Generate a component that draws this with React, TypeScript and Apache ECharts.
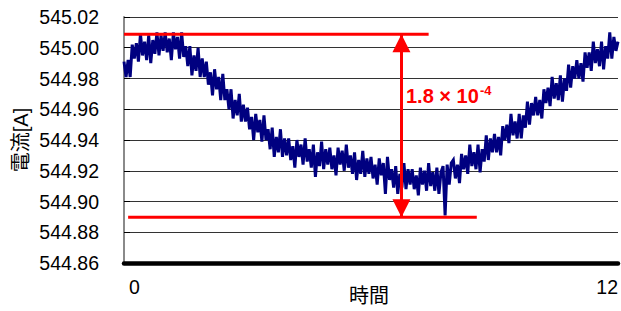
import React, { useEffect, useRef } from "react";
import * as echarts from "echarts";

// Measured current (A), sampled every 0.05 time units from 0 to 12
const currentValues: number[] = [
  544.991, 544.981, 544.992, 544.981, 545.002,
  544.993, 545.003, 544.991, 545.009, 544.995,
  545.004, 544.992, 545.008, 544.990, 545.005,
  544.996, 545.010, 544.995, 545.008, 544.998,
  545.010, 544.997, 545.006, 544.992, 545.010,
  544.999, 545.007, 544.993, 545.010, 544.994,
  545.001, 544.988, 545.001, 544.982, 544.995,
  544.985, 545.000, 544.981, 544.993, 544.981,
  544.991, 544.976, 544.984, 544.969, 544.986,
  544.973, 544.981, 544.966, 544.983, 544.966,
  544.973, 544.960, 544.973, 544.954, 544.966,
  544.956, 544.970, 544.952, 544.963, 544.952,
  544.961, 544.947, 544.955, 544.940, 544.957,
  544.945, 544.953, 544.939, 544.956, 544.940,
  544.947, 544.934, 544.948, 544.929, 544.942,
  544.932, 544.947, 544.929, 544.941, 544.930,
  544.941, 544.927, 544.936, 544.922, 544.940,
  544.929, 544.937, 544.924, 544.941, 544.926,
  544.934, 544.922, 544.937, 544.916, 544.932,
  544.923, 544.939, 544.921, 544.934, 544.924,
  544.935, 544.921, 544.930, 544.917, 544.935,
  544.924, 544.933, 544.920, 544.937, 544.922,
  544.930, 544.918, 544.932, 544.914, 544.927,
  544.918, 544.933, 544.916, 544.928, 544.918,
  544.929, 544.915, 544.924, 544.911, 544.928,
  544.917, 544.925, 544.905, 544.929, 544.914,
  544.921, 544.909, 544.923, 544.905, 544.918,
  544.909, 544.925, 544.908, 544.921, 544.911,
  544.921, 544.908, 544.917, 544.904, 544.922,
  544.911, 544.920, 544.907, 544.925, 544.910,
  544.919, 544.907, 544.922, 544.905, 544.919,
  544.923, 544.891, 544.924, 544.911, 544.925,
  544.927, 544.915, 544.924, 544.912, 544.931,
  544.921, 544.930, 544.918, 544.937, 544.923,
  544.932, 544.921, 544.937, 544.919, 544.934,
  544.926, 544.943, 544.927, 544.941, 544.932,
  544.944, 544.932, 544.942, 544.930, 544.949,
  544.940, 544.950, 544.938, 544.957, 544.943,
  544.952, 544.941, 544.957, 544.941, 544.956,
  544.948, 544.965, 544.950, 544.964, 544.956,
  544.968, 544.956, 544.966, 544.954, 544.973,
  544.964, 544.974, 544.962, 544.981, 544.967,
  544.977, 544.966, 544.982, 544.965, 544.980,
  544.972, 544.989, 544.974, 544.988, 544.980,
  544.992, 544.980, 544.990, 544.978, 544.997,
  544.987, 544.997, 544.985, 545.004, 544.990,
  544.999, 544.988, 545.004, 544.986, 545.001,
  544.993, 545.010, 544.993, 545.007, 544.998,
  545.004,
];
const timeStep = 0.05;

// Axis
const xMin = 0;
const xMax = 12;
const yMin = 544.86;
const yMax = 545.02;
const yInterval = 0.02;

// Annotation (peak-to-peak range)
const upperLevel = 545.0088;
const lowerLevel = 544.8898;
const upperLineX: [number, number] = [0, 7.4];
const lowerLineX: [number, number] = [0.1, 8.57];
const arrowX = 6.74;
const rangeText = "1.8 × 10";
const rangeExp = "-4";

const xAxisName = "時間";
const yAxisName = "電流[A]";

const FONT = "'Liberation Sans', Arial, 'Noto Sans CJK JP', sans-serif";

export default function App() {
  const ref = useRef<HTMLDivElement>(null);

  useEffect(() => {
    if (!ref.current) return;
    const chart = echarts.init(ref.current, null, { renderer: "svg" });
    const seriesData = currentValues.map((v, i) => [+(i * timeStep).toFixed(2), v]);

    chart.setOption({
      animation: false,
      textStyle: { fontFamily: FONT },
      grid: {
        left: 124,
        right: 3,
        top: 17,
        bottom: 48,
        containLabel: false,
        outerBoundsMode: "none",
      },
      xAxis: {
        type: "value",
        min: xMin,
        max: xMax,
        interval: 12,
        axisLine: { onZero: false, lineStyle: { color: "#000", width: 4.5 } },
        axisTick: { show: false },
        splitLine: { show: false },
        axisLabel: {
          fontSize: 19.5,
          color: "#000",
          margin: 14,
          alignMinLabel: "left",
          alignMaxLabel: "right",
          padding: [0, 0, 0, 5],
          formatter: (v: number) => String(v),
        },
      },
      yAxis: {
        type: "value",
        min: yMin,
        max: yMax,
        interval: yInterval,
        axisLine: { show: true, lineStyle: { color: "#8a8a8a", width: 2 } },
        axisTick: { show: true, inside: true, length: 6, lineStyle: { color: "#000", width: 1 } },
        splitLine: { show: true, lineStyle: { color: "#333", width: 1 } },
        axisLabel: {
          fontSize: 19.5,
          color: "#000",
          margin: 25,
          formatter: (v: number) => v.toFixed(2),
        },
      },
      graphic: [
        {
          type: "text",
          x: 21,
          y: 140,
          rotation: Math.PI / 2,
          style: {
            text: yAxisName,
            fontSize: 20,
            fontFamily: FONT,
            fill: "#000",
            align: "center",
            verticalAlign: "middle",
          },
        },
        {
          type: "text",
          x: 369,
          y: 296,
          style: {
            text: xAxisName,
            fontSize: 20,
            fontFamily: FONT,
            fill: "#000",
            align: "center",
            verticalAlign: "middle",
          },
        },
        {
          type: "text",
          x: 406,
          y: 96,
          z: 100,
          style: {
            text: rangeText,
            fontSize: 20,
            fontWeight: "bold",
            fontFamily: FONT,
            fill: "#ff0000",
            align: "left",
            verticalAlign: "middle",
          },
        },
        {
          type: "text",
          x: 480,
          y: 90,
          z: 100,
          style: {
            text: rangeExp,
            fontSize: 13,
            fontWeight: "bold",
            fontFamily: FONT,
            fill: "#ff0000",
            align: "left",
            verticalAlign: "middle",
          },
        },
      ],
      series: [
        {
          type: "line",
          data: seriesData,
          showSymbol: false,
          symbol: "none",
          lineStyle: { color: "#000080", width: 3, join: "miter" },
          silent: true,
          z: 2,
        },
        {
          type: "line",
          data: [
            [upperLineX[0], upperLevel],
            [upperLineX[1], upperLevel],
          ],
          symbol: "none",
          lineStyle: { color: "#ff0000", width: 3 },
          silent: true,
          z: 5,
        },
        {
          type: "line",
          data: [
            [lowerLineX[0], lowerLevel],
            [lowerLineX[1], lowerLevel],
          ],
          symbol: "none",
          lineStyle: { color: "#ff0000", width: 3 },
          silent: true,
          z: 5,
          markLine: {
            silent: true,
            symbol: ["triangle", "triangle"],
            symbolSize: [18, 18],
            symbolOffset: [
              [0, 9],
              [0, 9],
            ],
            label: { show: false },
            lineStyle: { color: "#ff0000", width: 3, type: "solid" },
            data: [
              [
                { coord: [arrowX, upperLevel] },
                { coord: [arrowX, lowerLevel] },
              ],
            ],
          },
        },
      ],
    });

    return () => chart.dispose();
  }, []);

  return (
    <div
      ref={ref}
      style={{ position: "fixed", left: 0, top: 0, width: 621, height: 311, background: "#fff" }}
    />
  );
}
